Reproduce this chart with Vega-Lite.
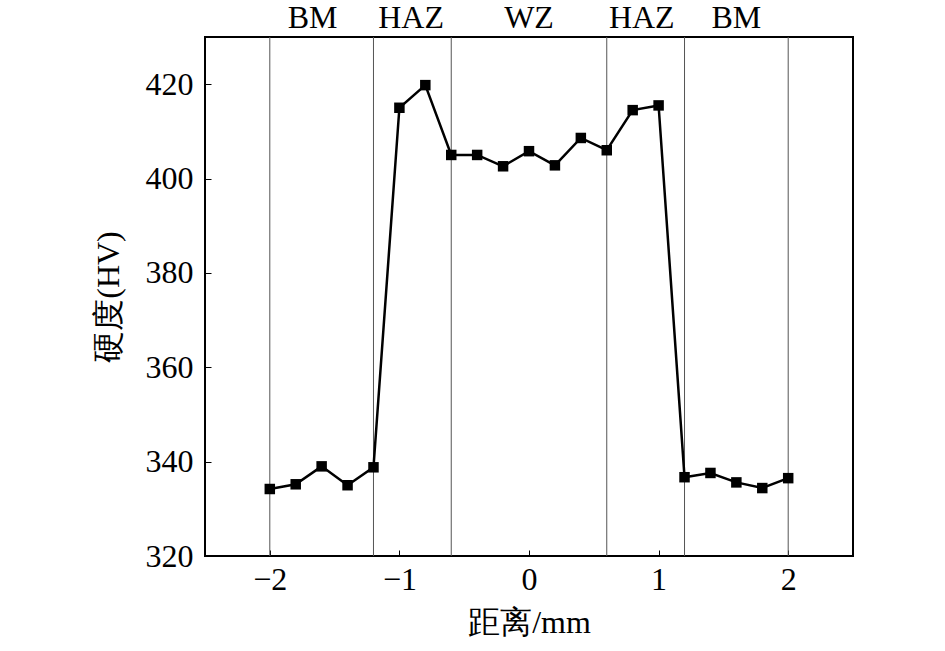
{
  "$schema": "https://vega.github.io/schema/vega-lite/v6.json",
  "width": 648,
  "height": 519,
  "autosize": {"type": "none"},
  "padding": {"left": 205, "top": 37, "right": 92, "bottom": 95},
  "background": "white",
  "config": {
    "view": {"stroke": "black", "strokeWidth": 2},
    "font": "Liberation Serif"
  },
  "datasets": {
    "hardness": [
      {"d": -2.0, "hv": 334.2},
      {"d": -1.8, "hv": 335.2},
      {"d": -1.6, "hv": 339.0},
      {"d": -1.4, "hv": 335.0},
      {"d": -1.2, "hv": 338.8},
      {"d": -1.0, "hv": 415.0},
      {"d": -0.8, "hv": 419.8},
      {"d": -0.6, "hv": 405.0},
      {"d": -0.4, "hv": 405.0},
      {"d": -0.2, "hv": 402.6},
      {"d": 0.0, "hv": 405.8},
      {"d": 0.2, "hv": 402.8},
      {"d": 0.4, "hv": 408.6},
      {"d": 0.6, "hv": 406.0},
      {"d": 0.8, "hv": 414.5},
      {"d": 1.0, "hv": 415.5},
      {"d": 1.2, "hv": 336.7},
      {"d": 1.4, "hv": 337.6},
      {"d": 1.6, "hv": 335.6},
      {"d": 1.8, "hv": 334.4},
      {"d": 2.0, "hv": 336.5}
    ],
    "bounds": [
      {"b": -2.0}, {"b": -1.2}, {"b": -0.6}, {"b": 0.6}, {"b": 1.2}, {"b": 2.0}
    ],
    "zones": [
      {"zx": -1.67, "zone": "BM"},
      {"zx": -0.91, "zone": "HAZ"},
      {"zx": 0.0, "zone": "WZ"},
      {"zx": 0.87, "zone": "HAZ"},
      {"zx": 1.6, "zone": "BM"}
    ]
  },
  "layer": [
    {
      "data": {"name": "bounds"},
      "mark": {"type": "rule", "color": "#555555", "strokeWidth": 1},
      "encoding": {
        "x": {"field": "b", "type": "quantitative", "scale": {"domain": [-2.5, 2.5]}}
      }
    },
    {
      "data": {"name": "hardness"},
      "mark": {"type": "line", "color": "black", "strokeWidth": 2.5},
      "encoding": {
        "x": {
          "field": "d", "type": "quantitative",
          "scale": {"domain": [-2.5, 2.5], "nice": false},
          "axis": {
            "title": "距离/mm",
            "values": [-2, -1, 0, 1, 2],
            "format": "d",
            "labelExpr": "replace(datum.label, '-', '−')",
            "grid": false,
            "domain": false,
            "tickSize": -6,
            "tickColor": "black",
            "labelFontSize": 32,
            "labelColor": "black",
            "labelPadding": 14,
            "labelFont": "Liberation Serif",
            "titleFontSize": 32,
            "titleFontWeight": "normal",
            "titleColor": "black",
            "titleFont": "Liberation Serif",
            "titlePadding": 12
          }
        },
        "y": {
          "field": "hv", "type": "quantitative",
          "scale": {"domain": [320, 430], "nice": false, "zero": false},
          "axis": {
            "title": "硬度(HV)",
            "values": [320, 340, 360, 380, 400, 420],
            "grid": false,
            "domain": false,
            "tickSize": -6,
            "tickColor": "black",
            "labelFontSize": 32,
            "labelColor": "black",
            "labelPadding": 18,
            "labelFont": "Liberation Serif",
            "titleFontSize": 32,
            "titleFontWeight": "normal",
            "titleColor": "black",
            "titleFont": "Liberation Serif",
            "titlePadding": 20
          }
        }
      }
    },
    {
      "data": {"name": "hardness"},
      "mark": {"type": "point", "shape": "square", "filled": true, "color": "black", "size": 110, "opacity": 1},
      "encoding": {
        "x": {"field": "d", "type": "quantitative"},
        "y": {"field": "hv", "type": "quantitative"}
      }
    },
    {
      "data": {"name": "zones"},
      "mark": {"type": "text", "fontSize": 32, "color": "black", "font": "Liberation Serif", "clip": false, "baseline": "middle"},
      "encoding": {
        "x": {"field": "zx", "type": "quantitative"},
        "y": {"datum": 434},
        "text": {"field": "zone"}
      }
    }
  ]
}
